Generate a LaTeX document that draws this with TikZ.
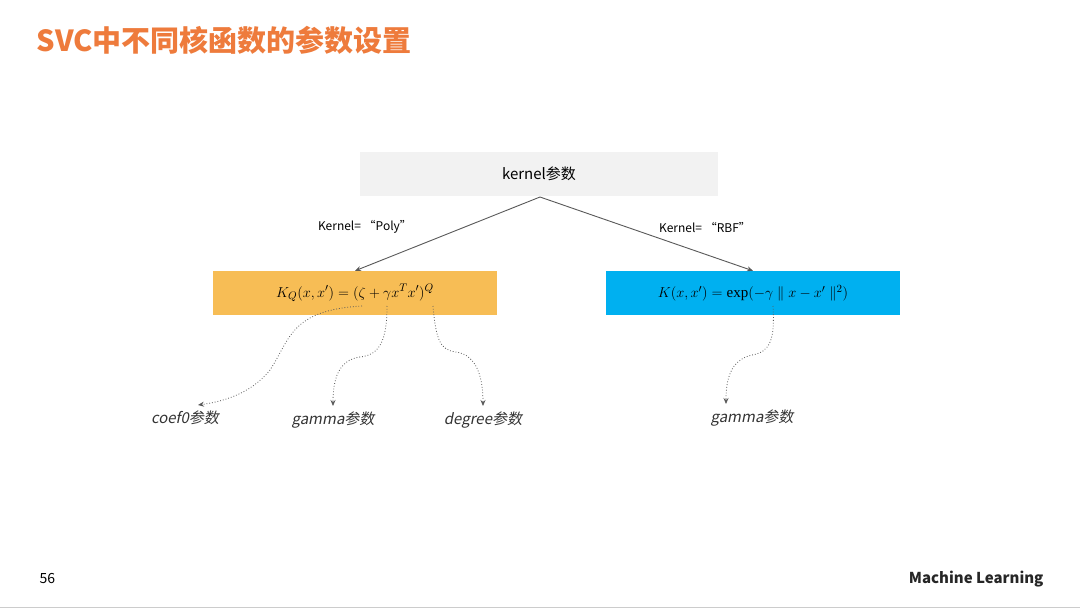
\documentclass[tikz,border=0pt]{standalone}
\usepackage{fontspec}
\setmainfont{Noto Sans CJK SC}
\newfontfamily\slcjk[FakeSlant=0.2]{Noto Sans CJK SC}
\newfontfamily\ser{Liberation Serif}
\usetikzlibrary{arrows.meta}
\definecolor{ttl}{HTML}{EE7B3C}
\definecolor{org}{HTML}{F7BD55}
\definecolor{blu}{HTML}{00B0F0}
\definecolor{gry}{HTML}{F2F2F2}
\definecolor{ln}{HTML}{595959}
\tikzset{
  box/.style={draw=none,minimum height=44pt,inner sep=0pt},
  arr/.style={draw=ln,line width=0.9pt,-{Stealth[length=6pt,width=5pt]}},
  dot/.style={draw=ln,line width=0.8pt,dotted,-{Stealth[length=6pt,width=5pt]}},
  lab/.style={font=\fontsize{15}{18}\selectfont\slcjk,text=black!80},
  small/.style={font=\fontsize{12}{14}\selectfont}
}
\begin{document}
\begin{tikzpicture}[x=1pt,y=-1pt]
\useasboundingbox[fill=white] (0,0) rectangle (1080,610);
\node[anchor=west,text=ttl,font=\fontsize{29}{34}\selectfont\bfseries] (title) at (33,40) {SVC中不同核函数的参数设置};
\node[box,fill=gry,minimum width=358pt,font=\fontsize{15}{18}\selectfont] (top) at (539,174) {kernel参数};
\node[box,fill=org,minimum width=284pt,font=\fontsize{15}{18}\selectfont] (poly) at (355,293) {$K_Q(x,x')=(\zeta+\gamma x^T x')^Q$};
\node[box,fill=blu,minimum width=294pt,font=\fontsize{15}{18}\selectfont] (rbf) at (753,293) {$K(x,x')=\mbox{\ser exp}(-\gamma\parallel x-x'\parallel^2)$};
\coordinate (tb) at (540,197);
\draw[arr] (tb) -- (poly.north);
\draw[arr] (tb) -- (rbf.north);
\node[small] (kp) at (365,227) {Kernel=\ “Poly”};
\node[small] (kr) at (705,227) {Kernel=\ “RBF”};
\node[lab] (c0) at (185,418) {coef0参数};
\node[lab] (g1) at (333,420) {gamma参数};
\node[lab] (dg) at (483,420) {degree参数};
\node[lab] (g2) at (752,418) {gamma参数};
\coordinate (p1) at (362,306);
\coordinate (p2) at (387,306);
\coordinate (p3) at (433,306);
\coordinate (p4) at (773,306);
\coordinate (e1) at (198,405);
\coordinate (e2) at (333,406);
\coordinate (e3) at (483,406);
\coordinate (e4) at (726,404);
\draw[dot] (p1) .. controls (290,310) and (290,340) .. (270,370) .. controls (250,395) and (220,402) .. (e1);
\draw[dot] (p2) .. controls (387,340) and (380,355) .. (360,357) .. controls (338,360) and (333,380) .. (e2);
\draw[dot] (p3) .. controls (436,340) and (440,350) .. (456,352) .. controls (478,355) and (483,380) .. (e3);
\draw[dot] (p4) .. controls (775,340) and (770,352) .. (752,355) .. controls (730,360) and (726,380) .. (e4);
\node[anchor=west,font=\fontsize{14}{16}\selectfont] (pg) at (36,579) {56};
\node[anchor=east,font=\fontsize{15}{18}\selectfont\bfseries,text=black!85] (ml) at (1047,579) {Machine Learning};
\draw[gray!40,line width=1pt] (0,607) -- (1080,607);
\end{tikzpicture}
\end{document}
